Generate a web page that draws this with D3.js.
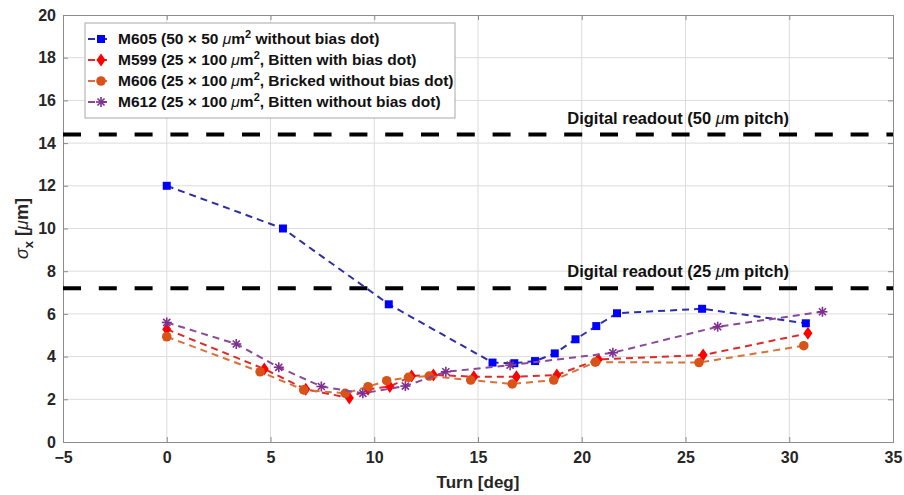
<!DOCTYPE html>
<html lang="en">
<head>
    <meta charset="UTF-8">
    <title>Spatial resolution vs turn</title>
    <style>
        body {
            margin: 0;
            background: #fff;
        }

        text {
            font-family: "Liberation Sans", Arial, sans-serif;
            font-weight: bold;
        }
    </style>
</head>
<body>
<script src="https://cdnjs.cloudflare.com/ajax/libs/d3/7.8.5/d3.min.js"></script>
<script>
    const width = 904;
    const height = 495;
    const M = {left: 63, right: 11, top: 15, bottom: 53};

    // data
    const m605X = [0, 5.6, 10.7, 15.7, 16.75, 17.75, 18.7, 19.7, 20.7, 21.7, 25.8, 30.8];
    const m605Y = [12, 10, 6.45, 3.72, 3.69, 3.79, 4.15, 4.81, 5.43, 6.03, 6.24, 5.56];

    const m599X = [0, 4.7, 6.7, 8.8, 9.7, 10.75, 11.8, 12.85, 14.8, 16.85, 18.8, 20.8, 25.85, 30.9];
    const m599Y = [5.28, 3.42, 2.47, 2.06, 2.47, 2.6, 3.09, 3.14, 3.06, 3.06, 3.14, 3.87, 4.07, 5.09];

    const m606X = [0, 4.5, 6.6, 8.6, 9.7, 10.6, 11.65, 12.65, 14.65, 16.65, 18.65, 20.65, 25.65, 30.7];
    const m606Y = [4.93, 3.29, 2.44, 2.28, 2.59, 2.87, 3.03, 3.09, 2.9, 2.72, 2.9, 3.74, 3.72, 4.51];

    const m612X = [0, 3.35, 5.4, 7.45, 9.45, 11.5, 13.45, 16.55, 21.5, 26.55, 31.6];
    const m612Y = [5.6, 4.59, 3.5, 2.6, 2.28, 2.62, 3.29, 3.6, 4.18, 5.4, 6.1];

    const readoutLevels = [14.4, 7.2];
    const readoutLabels = ['50', '25'];

    const xTicks = d3.range(-5, 36, 5);
    const yTicks = d3.range(0, 21, 2);

    const SERIES = [
        {name: 'M605', pre: 'M605 (50 × 50 ', post: ' without bias dot)', x: m605X, y: m605Y,
            marker: 'square', fill: '#0000ff', line: '#2e2ea6'},
        {name: 'M599', pre: 'M599 (25 × 100 ', post: ', Bitten with bias dot)', x: m599X, y: m599Y,
            marker: 'diamond', fill: '#ff0000', line: '#dd2b2b'},
        {name: 'M606', pre: 'M606 (25 × 100 ', post: ', Bricked without bias dot)', x: m606X, y: m606Y,
            marker: 'circle', fill: '#d95319', line: '#d9703a'},
        {name: 'M612', pre: 'M612 (25 × 100 ', post: ', Bitten without bias dot)', x: m612X, y: m612Y,
            marker: 'star', fill: '#7e2f8e', line: '#8a4a9a'}
    ];

    const x = d3.scaleLinear().domain([-5, 35]).range([M.left, width - M.right]);
    const y = d3.scaleLinear().domain([0, 20]).range([height - M.bottom, M.top]);

    const svg = d3.select('body').append('svg')
        .attr('width', width)
        .attr('height', height);

    // grid
    const grid = svg.append('g').attr('stroke', '#dcdcdc').attr('stroke-width', 1);
    grid.selectAll('.gx').data(xTicks.slice(1, -1)).enter().append('line')
        .attr('x1', d => x(d)).attr('x2', d => x(d))
        .attr('y1', y(0)).attr('y2', y(20));
    grid.selectAll('.gy').data(yTicks.slice(1, -1)).enter().append('line')
        .attr('y1', d => y(d)).attr('y2', d => y(d))
        .attr('x1', x(-5)).attr('x2', x(35));

    // axes
    const xAxis = svg.append('g')
        .attr('transform', `translate(0,${y(0)})`)
        .call(d3.axisBottom(x).tickValues(xTicks).tickSize(-5).tickPadding(10));
    const yAxis = svg.append('g')
        .attr('transform', `translate(${x(-5)},0)`)
        .call(d3.axisLeft(y).tickValues(yTicks).tickSize(-5).tickPadding(7));
    svg.append('g')
        .attr('transform', `translate(${x(35)},0)`)
        .call(d3.axisRight(y).tickValues(yTicks).tickSize(-5).tickFormat(''));
    svg.append('g')
        .attr('transform', `translate(0,${y(20)})`)
        .call(d3.axisTop(x).tickValues(xTicks).tickSize(-5).tickFormat(''));

    svg.selectAll('.domain, .tick line').attr('stroke', '#8c8c8c');
    svg.selectAll('.tick text')
        .attr('fill', '#262626')
        .style('font-size', '16px');
    xAxis.selectAll('.tick text').attr('dy', '0.71em');

    // axis labels
    svg.append('text')
        .attr('x', (x(-5) + x(35)) / 2)
        .attr('y', 488)
        .attr('text-anchor', 'middle')
        .attr('fill', '#262626')
        .style('font-size', '17px')
        .text('Turn [deg]');

    const yLabel = svg.append('text')
        .attr('transform', `translate(28,${(y(0) + y(20)) / 2}) rotate(-90)`)
        .attr('text-anchor', 'middle')
        .attr('fill', '#262626')
        .style('font-size', '18px');
    yLabel.append('tspan').style('font-weight', 'normal').style('font-style', 'italic').text('σ');
    yLabel.append('tspan').attr('dy', 5).style('font-size', '13px').text('x');
    yLabel.append('tspan').attr('dy', -5).text(' [');
    yLabel.append('tspan').style('font-weight', 'normal').style('font-style', 'italic').text('μ');
    yLabel.append('tspan').text('m]');

    // digital readout reference lines
    svg.append('g').selectAll('line').data(readoutLevels).enter().append('line')
        .attr('x1', x(-5)).attr('x2', x(35))
        .attr('y1', d => y(d)).attr('y2', d => y(d))
        .attr('stroke', '#000')
        .attr('stroke-width', 4)
        .attr('stroke-dasharray', '18,17.8');

    svg.append('g').selectAll('text').data(readoutLevels).enter().append('text')
        .attr('x', x(19.3))
        .attr('y', d => y(d) - 11)
        .attr('fill', '#111')
        .style('font-size', '16.5px')
        .each(function (d, i) {
            const t = d3.select(this);
            t.append('tspan').text(`Digital readout (${readoutLabels[i]} `);
            t.append('tspan').style('font-weight', 'normal').style('font-style', 'italic').text('μ');
            t.append('tspan').text('m pitch)');
        });

    // series
    const line = d3.line().x(d => x(d[0])).y(d => y(d[1]));

    function markerPath(kind) {
        if (kind === 'square') return d3.symbol(d3.symbolSquare, 64)();
        if (kind === 'diamond') return 'M0,-6.5L4.5,0L0,6.5L-4.5,0Z';
        if (kind === 'circle') return d3.symbol(d3.symbolCircle, 72)();
        return null;
    }

    function drawMarker(g, kind, color) {
        if (kind === 'star') {
            const r = 5;
            const star = g.append('g').attr('stroke', color).attr('stroke-width', 1.6);
            [0, 45, 90, 135].forEach(a => {
                const rad = a * Math.PI / 180;
                star.append('line')
                    .attr('x1', -r * Math.cos(rad)).attr('y1', -r * Math.sin(rad))
                    .attr('x2', r * Math.cos(rad)).attr('y2', r * Math.sin(rad));
            });
        } else {
            g.append('path').attr('d', markerPath(kind)).attr('fill', color);
        }
    }

    SERIES.forEach(s => {
        const pts = s.x.map((v, i) => [v, s.y[i]]);
        const g = svg.append('g').classed(s.name, true);
        g.append('path')
            .datum(pts)
            .attr('d', line)
            .attr('fill', 'none')
            .attr('stroke', s.line)
            .attr('stroke-width', 2)
            .attr('stroke-dasharray', '7,5');
        g.selectAll('.pt').data(pts).enter().append('g')
            .attr('transform', d => `translate(${x(d[0])},${y(d[1])})`)
            .each(function () {
                drawMarker(d3.select(this), s.marker, s.fill);
            });
    });

    // legend
    const legend = svg.append('g').attr('transform', 'translate(85,23)');
    legend.append('rect')
        .attr('width', 370).attr('height', 95)
        .attr('fill', '#fff')
        .attr('stroke', '#a8a8a8');

    SERIES.forEach((s, i) => {
        const row = legend.append('g').attr('transform', `translate(0,${16 + i * 21})`);
        row.append('line')
            .attr('x1', 3).attr('x2', 22)
            .attr('stroke', s.line).attr('stroke-width', 2)
            .attr('stroke-dasharray', '7,5');
        drawMarker(row.append('g').attr('transform', 'translate(16,0)'), s.marker, s.fill);
        const t = row.append('text')
            .attr('x', 33)
            .attr('y', 5)
            .attr('fill', '#111')
            .style('font-size', '15.5px');
        t.append('tspan').text(s.pre);
        t.append('tspan').style('font-weight', 'normal').style('font-style', 'italic').text('μ');
        t.append('tspan').text('m');
        t.append('tspan').attr('dy', -6).style('font-size', '11px').text('2');
        t.append('tspan').attr('dy', 6).text(s.post);
    });
</script>
</body>
</html>
